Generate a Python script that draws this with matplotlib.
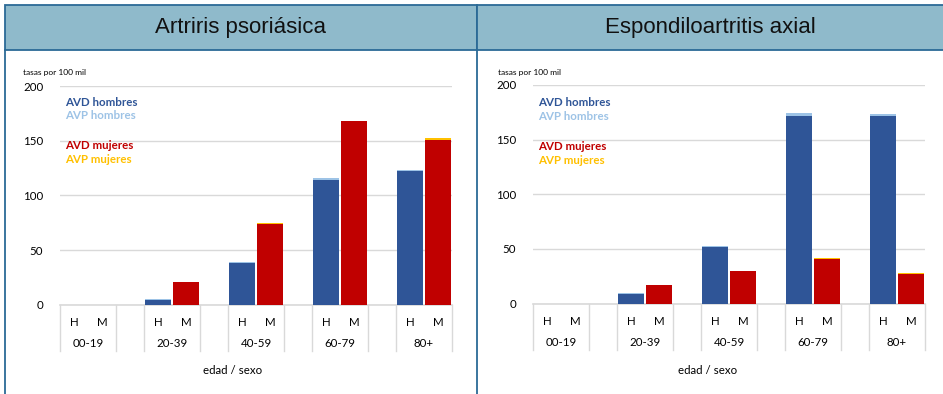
import numpy as np
import matplotlib.pyplot as plt
from matplotlib.patches import Rectangle
from matplotlib.lines import Line2D
import matplotlib.transforms as mtransforms

# datos (tasas por 100 mil)
grupos = ['00-19', '20-39', '40-59', '60-79', '80+']
sexos = ['H', 'M']

titulos = ['Artriris psoriásica', 'Espondiloartritis axial']

avd_h_ap = [0, 4.5, 38, 114.5, 122.5]
avp_h_ap = [0, 0.6, 1.2, 1.8, 0.6]
avd_m_ap = [0, 20.5, 74, 167.8, 151.2]
avp_m_ap = [0, 0.4, 0.5, 0.5, 1.0]

avd_h_ea = [0, 9, 52, 172, 172]
avp_h_ea = [0, 0.3, 0.6, 2.6, 1.8]
avd_m_ea = [0, 16.5, 29.3, 41, 27.2]
avp_m_ea = [0, 0.3, 0.3, 0.6, 0.6]

c_avd_h = '#2F5597'
c_avp_h = '#9DC3E6'
c_avd_m = '#C00000'
c_avp_m = '#FFC000'
grid_c = '#D9D9D9'
borde = '#2B6A96'
cabecera = '#8FBACB'

W, H = 943, 394
fig = plt.figure(figsize=(W / 100, H / 100), dpi=100)
fig.patch.set_facecolor('white')


def fx(px):
    return px / W


def fy(py):
    return 1 - py / H


# marcos y cabeceras
for x0, x1 in [(5, 477), (477, 945)]:
    fig.patches.append(Rectangle((fx(x0), fy(50)), fx(x1 - x0), (50 - 5) / H,
                                 transform=fig.transFigure, facecolor=cabecera,
                                 edgecolor=borde, lw=1.3, zorder=0))
fig.add_artist(Line2D([fx(5), fx(5)], [fy(50), fy(400)], color=borde, lw=1.3))
fig.add_artist(Line2D([fx(477), fx(477)], [fy(50), fy(400)], color=borde, lw=1.3))

fig.text(fx(241), fy(28), titulos[0], ha='center', va='center', fontsize=16,
         family='Liberation Sans', color='#111111')
fig.text(fx(710), fy(28), titulos[1], ha='center', va='center', fontsize=16,
         family='Liberation Sans', color='#111111')

datos = [(avd_h_ap, avp_h_ap, avd_m_ap, avp_m_ap),
         (avd_h_ea, avp_h_ea, avd_m_ea, avp_m_ea)]
izq = [60, 533]
cero_y = [304.7, 303.5]

n = len(grupos)
pos_h = np.arange(n) * 3
pos_m = pos_h + 1
fs = 8.3

for k in range(2):
    x0 = izq[k]
    y0 = cero_y[k]
    alto = 218.5
    ax = fig.add_axes([fx(x0), fy(y0), fx(392), alto / H])
    avd_h, avp_h, avd_m, avp_m = datos[k]

    ax.bar(pos_h, avd_h, width=0.9, color=c_avd_h, zorder=3)
    ax.bar(pos_h, avp_h, bottom=avd_h, width=0.9, color=c_avp_h, zorder=3)
    ax.bar(pos_m, avd_m, width=0.9, color=c_avd_m, zorder=3)
    ax.bar(pos_m, avp_m, bottom=avd_m, width=0.9, color=c_avp_m, zorder=3)

    ax.set_xlim(-0.5, 3 * n - 1.5)
    ax.set_ylim(0, 200)
    ax.set_yticks([0, 50, 100, 150, 200])
    ax.yaxis.grid(True, color=grid_c, lw=1)
    ax.set_axisbelow(True)
    for s in ax.spines.values():
        s.set_visible(False)
    ax.tick_params(axis='y', length=0, pad=12, labelsize=fs)
    for lab in ax.get_yticklabels():
        lab.set_family('Lato')

    xt = np.concatenate([pos_h, pos_m])
    ax.set_xticks(xt, ['H'] * n + ['M'] * n)
    ax.tick_params(axis='x', length=0, pad=9, labelsize=fs)
    for lab in ax.get_xticklabels():
        lab.set_family('Lato')

    tr = mtransforms.blended_transform_factory(ax.transData, ax.transAxes)
    for i, g in enumerate(grupos):
        ax.text(pos_h[i] + 0.5, -0.178, g, transform=tr, ha='center', va='center',
                fontsize=fs, family='Lato')
    seps = sorted(set(list(pos_h - 0.5) + list(pos_m + 0.5)))
    for s in seps:
        ax.plot([s, s], [0, -0.212], transform=tr, color=grid_c, lw=1, clip_on=False)
    ax.plot([-0.5, 3 * n - 1.5], [0, 0], transform=tr, color=grid_c, lw=1.2, clip_on=False)

    fig.text(fx(233 + (x0 - 60) + 2 * k), fy(371), 'edad / sexo', ha='center', va='center',
             fontsize=fs, family='Lato')
    fig.text(fx(x0 - 37 + 2 * k), fy(72), 'tasas por 100 mil', ha='left', va='center',
             fontsize=6, family='Lato')

    ley = [('AVD hombres', c_avd_h), ('AVP hombres', c_avp_h),
           ('AVD mujeres', c_avd_m), ('AVP mujeres', c_avp_m)]
    for (txt, col), yy in zip(ley, [102, 115.5, 145.5, 159.5]):
        fig.text(fx(x0 + 5), fy(yy + (1 if k else 0)), txt, ha='left', va='center',
                 fontsize=8.3, fontweight='bold', color=col, family='Lato')

fig.savefig('out.png', dpi=100)
